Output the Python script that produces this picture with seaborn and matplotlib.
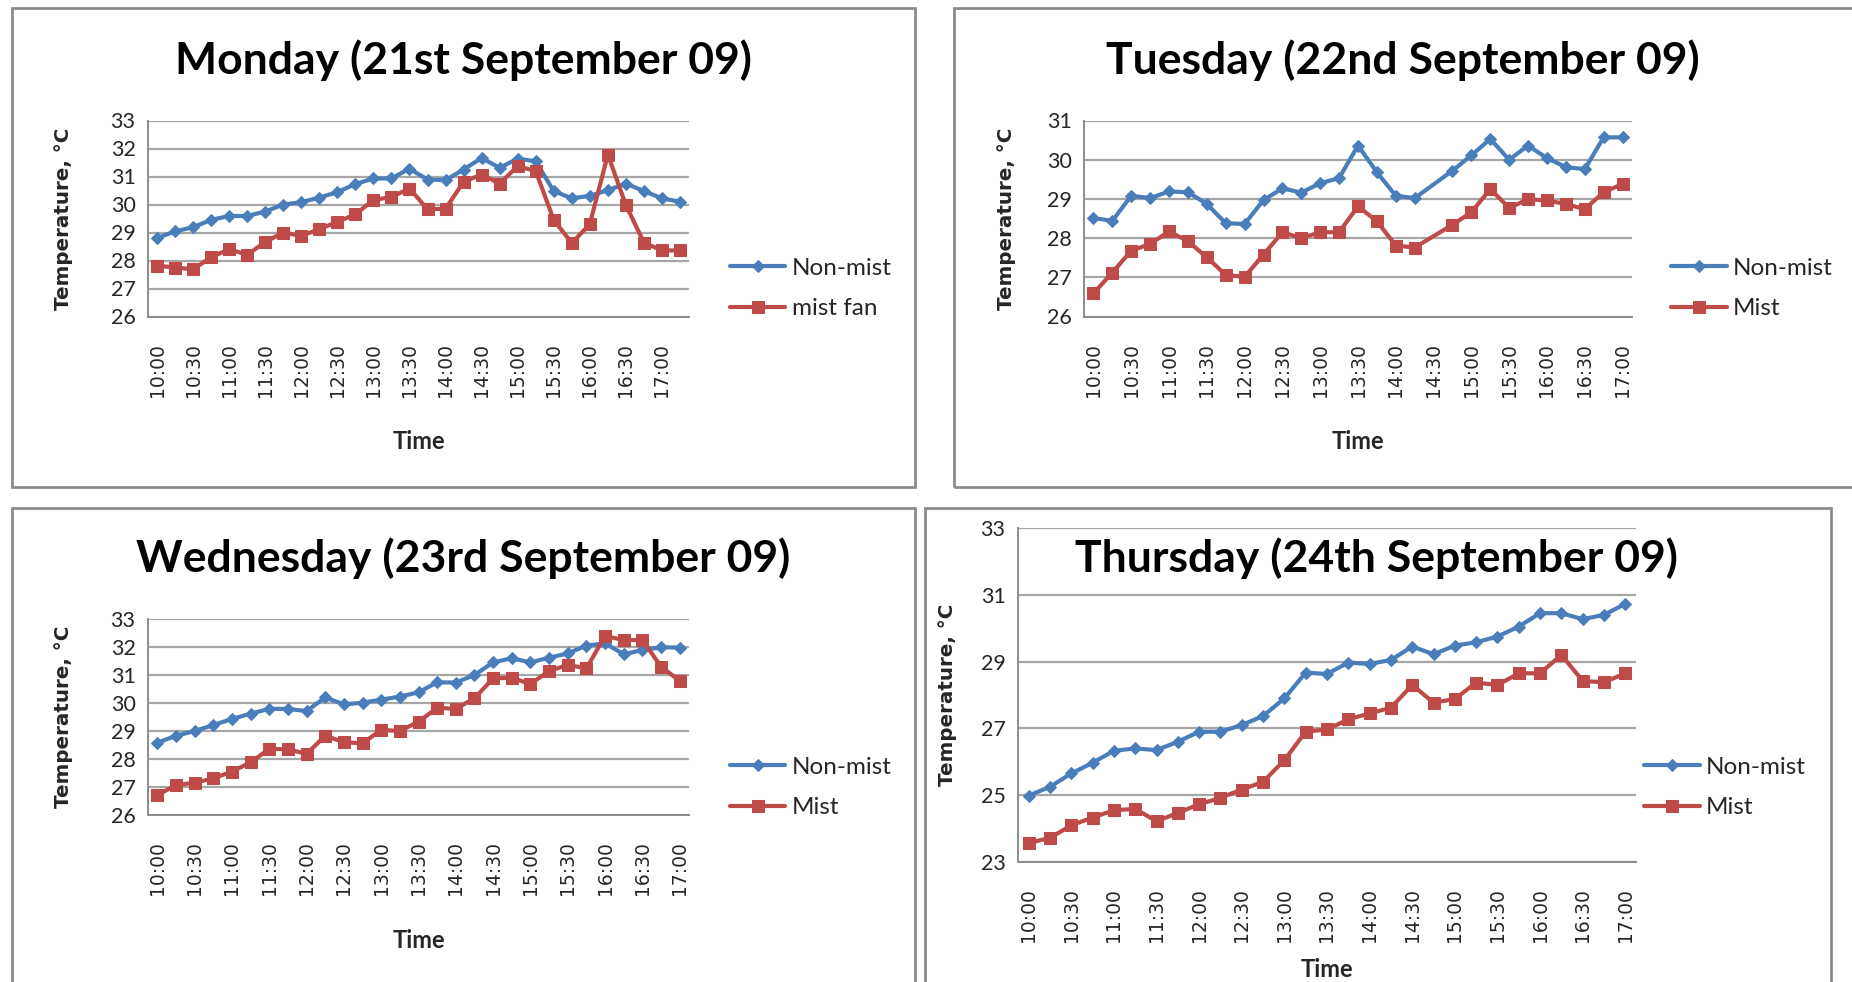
import numpy as np
import pandas as pd
import matplotlib
matplotlib.use("Agg")
import matplotlib.pyplot as plt
import seaborn as sns
from matplotlib.patches import Rectangle

# quarter-hour categories
times_mon = ["10:00", "10:15", "10:30", "10:45", "11:00", "11:15", "11:30", "11:45",
             "12:00", "12:15", "12:30", "12:45", "13:00", "13:15", "13:30", "13:45",
             "14:00", "14:15", "14:30", "14:45", "15:00", "15:15", "15:30", "15:45",
             "16:00", "16:15", "16:30", "16:45", "17:00", "17:15"]
times = times_mon[:29]

# Monday
mon_non = [28.80, 29.04, 29.19, 29.45, 29.59, 29.59, 29.75, 30.00, 30.08, 30.25,
           30.44, 30.73, 30.93, 30.93, 31.28, 30.89, 30.87, 31.25, 31.66, 31.31,
           31.64, 31.54, 30.48, 30.22, 30.31, 30.51, 30.75, 30.48, 30.22, 30.10]
mon_mist = [27.82, 27.75, 27.69, 28.11, 28.41, 28.20, 28.66, 29.00, 28.88, 29.12,
            29.38, 29.65, 30.16, 30.27, 30.57, 29.83, 29.85, 30.81, 31.07, 30.75,
            31.37, 31.19, 29.45, 28.62, 29.30, 31.78, 29.98, 28.64, 28.36, 28.36]

# Tuesday (no reading at 14:30)
tue_non = [28.51, 28.44, 29.08, 29.02, 29.19, 29.17, 28.87, 28.38, 28.36, 28.97,
           29.27, 29.16, 29.40, 29.53, 30.36, 29.68, 29.08, 29.02, np.nan, 29.72,
           30.11, 30.53, 30.00, 30.36, 30.04, 29.81, 29.76, 30.57, 30.57]
tue_mist = [26.59, 27.12, 27.68, 27.85, 28.17, 27.92, 27.51, 27.06, 27.01, 27.58,
            28.15, 28.00, 28.15, 28.15, 28.81, 28.43, 27.81, 27.76, np.nan, 28.34,
            28.66, 29.25, 28.77, 28.99, 28.96, 28.87, 28.74, 29.17, 29.38]

# Wednesday
wed_non = [28.58, 28.83, 29.00, 29.21, 29.43, 29.62, 29.79, 29.79, 29.71, 30.20,
           29.95, 30.01, 30.12, 30.23, 30.38, 30.74, 30.73, 31.00, 31.45, 31.60,
           31.45, 31.62, 31.77, 32.05, 32.13, 31.74, 31.89, 31.99, 31.98]
wed_mist = [26.71, 27.07, 27.15, 27.31, 27.55, 27.88, 28.36, 28.35, 28.18, 28.83,
            28.60, 28.56, 29.04, 29.00, 29.33, 29.83, 29.79, 30.17, 30.88, 30.90,
            30.68, 31.14, 31.36, 31.24, 32.39, 32.25, 32.25, 31.30, 30.79]

# Thursday
thu_non = [24.99, 25.25, 25.65, 25.97, 26.33, 26.40, 26.35, 26.60, 26.90, 26.90,
           27.10, 27.37, 27.90, 28.67, 28.63, 28.97, 28.93, 29.05, 29.45, 29.22,
           29.48, 29.58, 29.75, 30.05, 30.45, 30.45, 30.27, 30.40, 30.73]
thu_mist = [23.57, 23.72, 24.10, 24.33, 24.55, 24.59, 24.22, 24.47, 24.73, 24.92,
            25.17, 25.40, 26.05, 26.90, 26.97, 27.27, 27.45, 27.62, 28.30, 27.77,
            27.88, 28.37, 28.30, 28.65, 28.65, 29.20, 28.42, 28.38, 28.65]

BLUE = "#4A7EBB"
RED = "#BE4B48"
GRID = "#A6A6A6"

sns.set_style("white")
plt.rcParams["font.family"] = ["Lato", "DejaVu Sans"]

W, H = 1852, 982
fig = plt.figure(figsize=(W / 100, H / 100), dpi=100)


def px_rect(left, top, right, bottom):
    return [left / W, 1 - bottom / H, (right - left) / W, (bottom - top) / H]


# chart borders
for l, t, r, b in [(12, 8, 915, 487), (954, 8, 1860, 487),
                   (12, 508, 915, 990), (925, 508, 1831, 990)]:
    fig.add_artist(Rectangle((l / W, 1 - b / H), (r - l) / W, (b - t) / H,
                             transform=fig.transFigure, fill=False,
                             ec="#8C8C8C", lw=2))


def panel(rect, cats, non, mist, mist_label, ylo, yhi, ystep, title, title_xy,
          ylab_x, time_y, leg_xy):
    ax = fig.add_axes(rect)
    df = pd.DataFrame({"pos": range(len(cats)), "non": non, "mist": mist})
    sns.lineplot(data=df, x="pos", y="non", ax=ax, color=BLUE, marker="D",
                 markersize=6, linewidth=3, markeredgecolor=BLUE,
                 label="Non-mist")
    sns.lineplot(data=df, x="pos", y="mist", ax=ax, color=RED, marker="s",
                 markersize=8.5, linewidth=3, markeredgecolor=RED,
                 label=mist_label)
    n = len(cats)
    ax.set_xlim(-0.5, n - 0.5)
    ax.set_ylim(ylo, yhi)
    ax.set_yticks(np.arange(ylo, yhi + 0.1, ystep))
    ax.yaxis.grid(True, color=GRID, lw=1.6)
    ax.set_axisbelow(True)
    ax.set_xticks(range(0, n, 2))
    ax.set_xticklabels(cats[::2], rotation=90, family="DejaVu Sans", fontsize=13.5)
    ax.set_xticks(np.arange(-0.5, n, 1), minor=True)
    ax.tick_params(axis="x", which="major", length=0, pad=19)
    ax.tick_params(axis="x", which="minor", length=7, width=1.3, color=GRID)
    ax.tick_params(axis="y", length=6, width=1.3, color=GRID, pad=3, labelsize=15.5)
    for s in ["top", "right"]:
        ax.spines[s].set_visible(False)
    for s in ["left", "bottom"]:
        ax.spines[s].set_color("#8C8C8C")
        ax.spines[s].set_linewidth(1.4)
    ax.set_ylabel("Temperature, °C", family="DejaVu Sans", fontweight="bold",
                  fontsize=14.3)
    ax.yaxis.set_label_coords(ylab_x, 0.5)
    ax.set_xlabel("Time", fontweight="bold", fontsize=17)
    ax.xaxis.set_label_coords(0.5, time_y)
    ax.legend(loc="center left", bbox_to_anchor=leg_xy, frameon=False,
              fontsize=17.5, handlelength=2.3, handletextpad=0.25,
              labelspacing=0.8, borderpad=0, borderaxespad=0)
    fig.text(title_xy[0] / W, 1 - title_xy[1] / H, title, ha="center",
             va="center", fontsize=32, fontweight="bold", color="black")
    return ax


panel(px_rect(148, 120.5, 689, 316.5), times_mon, mon_non, mon_mist, "mist fan",
      26, 33, 1, "Monday (21st September 09)", (463, 60), -0.138, -0.58,
      (1.075, 0.142))
panel(px_rect(1084, 120.5, 1632, 316.5), times, tue_non, tue_mist, "Mist",
      26, 31, 1, "Tuesday (22nd September 09)", (1403, 60), -0.124, -0.58,
      (1.071, 0.142))
panel(px_rect(148, 619, 689, 815), times, wed_non, wed_mist, "Mist",
      26, 33, 1, "Wednesday (23rd September 09)", (463, 558), -0.138, -0.584,
      (1.075, 0.14))
panel(px_rect(1018, 528, 1636, 862), times, thu_non, thu_mist, "Mist",
      23, 33, 2, "Thursday (24th September 09)", (1376, 558), -0.099, -0.287,
      (1.013, 0.223))

fig.savefig("out.png", dpi=100)
